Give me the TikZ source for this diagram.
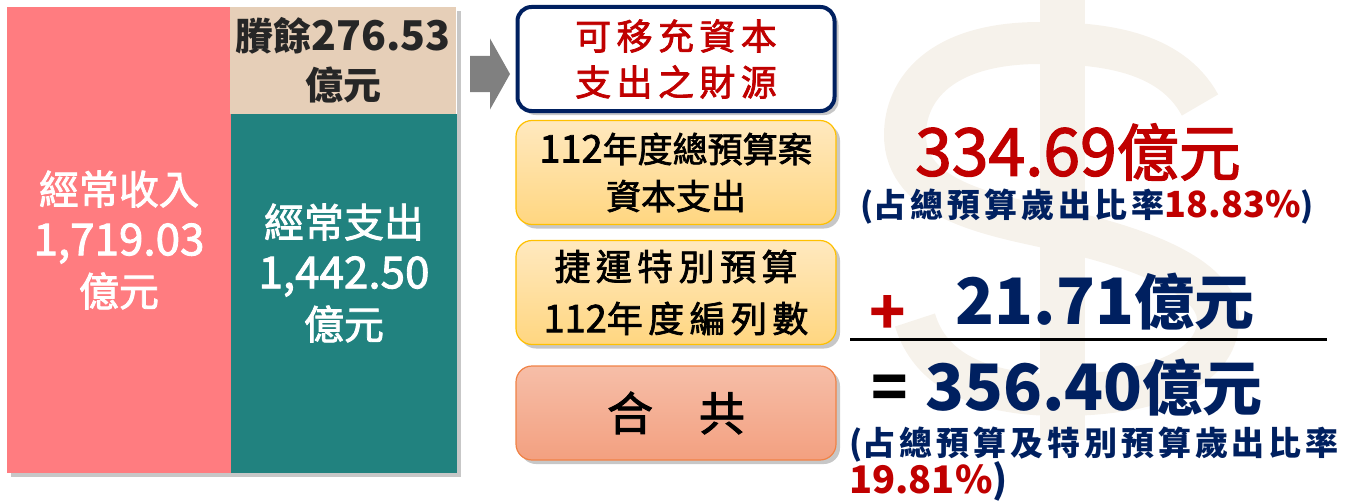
\documentclass[tikz,border=0pt]{standalone}
\usepackage{fontspec}
\setmainfont{Noto Sans CJK TC}
\newfontfamily\medium[FakeBold=2]{Noto Sans CJK TC}
\newfontfamily\spaced[LetterSpace=15,FakeBold=2]{Noto Sans CJK TC}
\newfontfamily\notewide[LetterSpace=12]{Noto Sans CJK TC}
\usetikzlibrary{shapes,arrows,calc,fit,backgrounds,shadows}
\definecolor{pinkred}{RGB}{255,124,128}
\definecolor{tealbg}{RGB}{33,130,127}
\definecolor{sand}{RGB}{230,207,184}
\definecolor{navy}{RGB}{0,32,96}
\definecolor{darkred}{RGB}{192,0,0}
\definecolor{gold}{RGB}{255,192,0}
\definecolor{wmark}{RGB}{246,242,235}
\definecolor{darktext}{RGB}{38,38,38}
\tikzset{block/.style={inner sep=0pt, outer sep=0pt, align=center, text=white},
         shade/.style={drop shadow={shadow xshift=4pt, shadow yshift=-4pt, fill=black, opacity=0.22}},
         srcbox/.style={draw=navy, line width=4pt, rounded corners=14pt, fill=white, minimum width=317pt, minimum height=104pt, align=center, inner sep=0pt, shade},
         item/.style={draw=gold, line width=1.2pt, rounded corners=16pt, top color=yellow!30!orange!25!white, bottom color={rgb,255:red,255;green,214;blue,128}, minimum width=320pt, minimum height=104pt, align=center, inner sep=0pt, shade},
         total/.style={draw={rgb,255:red,240;green,130;blue,70}, line width=1.2pt, rounded corners=16pt, top color={rgb,255:red,246;green,190;blue,168}, bottom color={rgb,255:red,243;green,160;blue,128}, minimum width=320pt, minimum height=94pt, inner sep=0pt, shade},
         bignum/.style={inner sep=0pt, font=\medium\fontsize{62}{66}\selectfont},
         note/.style={inner sep=0pt, text=navy, font=\bfseries\fontsize{33}{40}\selectfont}}
\def\boxx{676}

\begin{document}
\begin{tikzpicture}[x=1pt, y=-1pt]
\useasboundingbox (0,0) rectangle (1352,503);

% faint dollar sign behind the sums
\fill[wmark] (1040,0) rectangle (1085,440);
\draw[wmark, line width=42pt] (1200,105) .. controls (1170,50) and (1100,43) .. (1040,43)
  .. controls (940,43) and (905,90) .. (905,135) .. controls (905,200) and (990,215) .. (1060,230)
  .. controls (1150,250) and (1218,280) .. (1218,320) .. controls (1218,370) and (1150,395) .. (1060,395)
  .. controls (980,395) and (930,370) .. (915,320);

% left block
\node (income) [block, fill=pinkred, minimum width=224pt, minimum height=466pt, font=\medium\fontsize{40}{51}\selectfont] at (119,240) {經常收入\\{\fontsize{44}{51}\selectfont 1,719.03}\\億元};
\node (spend) [block, fill=tealbg, minimum width=226pt, minimum height=359pt] at (344,293.5) {};
\node (spendtxt) [block, font=\medium\fontsize{40}{51}\selectfont] at (344,273) {經常支出\\{\fontsize{44}{51}\selectfont 1,442.50}\\億元};
\node (surplus) [block, fill=sand, text=darktext, minimum width=226pt, minimum height=107pt, font=\bfseries\fontsize{38}{49}\selectfont] at (343,60.5) {賸餘{\fontsize{41}{49}\selectfont 276.53}\\億元};
\begin{pgfonlayer}{background}
  \node [fit=(income) (spend) (surplus), inner sep=0pt, fill=white, shade] {};
\end{pgfonlayer}

% grey block arrow
\coordinate (arrtail) at (470,74);
\fill[black!50] (arrtail) ++(0,-18) -- ++(20,0) -- ++(0,-17.5) -- ++(20,35.5) -- ++(-20,35.5) -- ++(0,-17.5) -- ++(-20,0) -- cycle;

% boxes in the middle
\node (src) [srcbox, text=darkred, font=\spaced\fontsize{36}{46}\selectfont] at (\boxx,59) {可移充資本\\支出之財源};
\node (capbox) [item, font=\medium\fontsize{35}{47}\selectfont] at (\boxx,172.5) {{\fontsize{38}{47}\selectfont 112}年度總預算案\\資本支出};
\node (metrobox) [item, font=\spaced\fontsize{36}{52}\selectfont] at (\boxx,292.5) {捷運特別預算\\{\medium\fontsize{38}{52}\selectfont 112}年度編列數};
\node (sumbox) [total, font=\medium\fontsize{46}{50}\selectfont] at (\boxx,413) {合　共};

% sums on the right
\node (capex) [bignum, text=darkred] at (1078,152) {{\fontsize{66}{66}\selectfont 334.69}億元};
\node (share) [note] at (1087,207) {({\notewide 占總預算歲出比率}\textcolor{darkred}{\fontsize{36}{40}\selectfont 18.83\%})};
\node (plus) [bignum, text=darkred, font=\bfseries\fontsize{60}{66}\selectfont] at (888,315) {+};
\node (metro) [bignum, text=navy, font=\bfseries\fontsize{60}{66}\selectfont] at (1105,302) {{\fontsize{64}{66}\selectfont 21.71}億元};
\coordinate (rulel) at (850,339);
\coordinate (ruler) at (1327,339);
\draw[line width=3pt] (rulel) -- (ruler);
\node (eq) [bignum, font=\bfseries\fontsize{60}{66}\selectfont] at (890,392) {=};
\node (sum) [bignum, text=navy, font=\bfseries\fontsize{60}{66}\selectfont] at (1094,388) {{\fontsize{64}{66}\selectfont 356.40}億元};
\node (share2) [note, anchor=west] at (849,445) {({\notewide 占總預算及特別預算歲出比率}};
\node (share3) [note, anchor=west, font=\bfseries\fontsize{38}{40}\selectfont] at (849,481) {\textcolor{darkred}{19.81\%})};
\end{tikzpicture}
\end{document}
